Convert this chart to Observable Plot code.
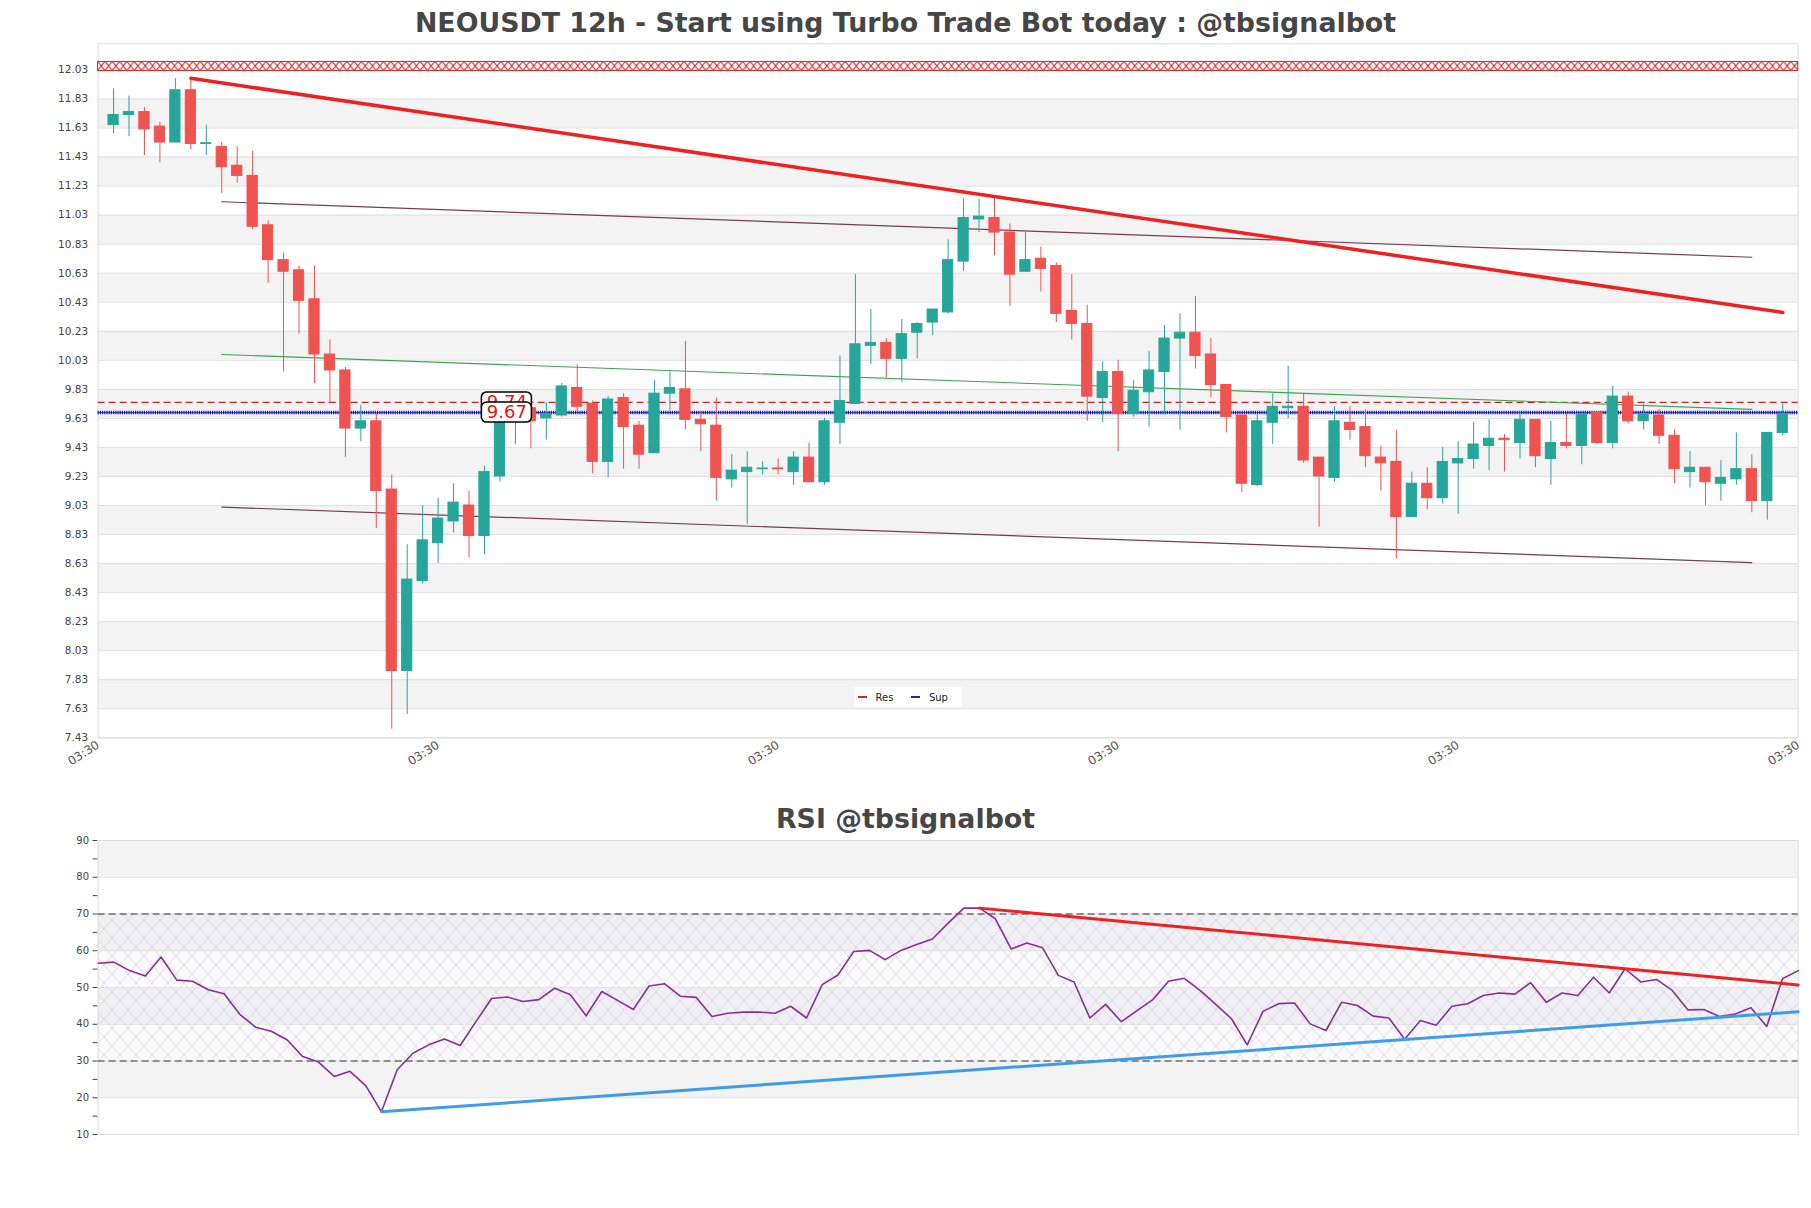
<!DOCTYPE html>
<html><head><meta charset="utf-8">
<script src="https://cdn.jsdelivr.net/npm/d3@7"></script>
<script src="https://cdn.jsdelivr.net/npm/@observablehq/plot@0.6"></script>
<style>
html,body{margin:0;padding:0;background:#fff;}
#page{position:relative;width:1811px;height:1208px;overflow:hidden;font-family:"DejaVu Sans",sans-serif;}
.title{position:absolute;left:0;width:1811px;text-align:center;font-weight:bold;font-size:26.8px;color:#464646;white-space:nowrap;}
#main{position:absolute;left:0;top:40px;}
#rsi{position:absolute;left:0;top:830px;}
#legend{position:absolute;left:854px;top:687px;width:108px;height:20px;background:#fff;border-radius:3px;font-size:10px;color:#222;display:flex;align-items:center;}
#legend .sw{display:inline-block;width:11px;height:2px;margin-left:4px;margin-right:9px;}
#legend .lab{margin-right:14px;}
</style></head><body>
<div id="page">
  <div class="title" style="top:3px;height:40px;line-height:40px;">NEOUSDT 12h - Start using Turbo Trade Bot today : @tbsignalbot</div>
  <div id="main"></div>
  <div id="legend"><span class="sw" style="background:#d62222"></span><span class="lab">Res</span><span class="sw" style="background:#2222bb"></span><span class="lab">Sup</span></div>
  <div class="title" style="top:799px;height:40px;line-height:40px;">RSI @tbsignalbot</div>
  <div id="rsi"></div>
</div>
<script>
// ---------- data ----------
const open  = [11.65,11.72,11.74,11.64,11.53,11.89,11.52,11.50,11.37,11.30,10.96,10.72,10.65,10.45,10.07,9.96,9.56,9.61,9.14,7.89,8.51,8.77,8.92,9.03,8.82,9.23,9.64,9.70,9.63,9.65,9.84,9.73,9.33,9.77,9.58,9.39,9.80,9.83,9.62,9.58,9.21,9.26,9.28,9.285,9.26,9.36,9.19,9.60,9.73,10.13,10.15,10.04,10.22,10.29,10.36,10.71,11.00,11.01,10.91,10.64,10.73,10.68,10.37,10.28,9.77,9.95,9.66,9.81,9.95,10.18,10.22,10.07,9.86,9.65,9.17,9.60,9.70,9.71,9.36,9.22,9.60,9.57,9.36,9.33,8.95,9.18,9.08,9.32,9.35,9.44,9.49,9.46,9.62,9.35,9.46,9.44,9.67,9.46,9.78,9.61,9.65,9.51,9.26,9.29,9.18,9.21,9.28,9.06,9.53];
const high  = [11.90,11.85,11.77,11.67,11.97,11.97,11.65,11.53,11.50,11.47,10.99,10.77,10.68,10.68,10.17,9.98,9.72,9.67,9.24,8.76,9.03,9.08,9.18,9.13,9.30,9.68,9.72,9.73,9.74,9.87,10.00,9.75,9.78,9.80,9.61,9.89,9.95,10.16,9.67,9.77,9.38,9.40,9.33,9.35,9.40,9.46,9.63,10.06,10.62,10.38,10.18,10.31,10.29,10.38,10.86,11.14,11.14,11.15,10.97,10.91,10.81,10.70,10.62,10.41,10.02,10.03,9.89,10.09,10.27,10.35,10.47,10.18,9.86,9.65,9.66,9.80,9.99,9.80,9.36,9.71,9.71,9.69,9.44,9.55,9.26,9.29,9.43,9.47,9.60,9.62,9.52,9.68,9.62,9.61,9.66,9.66,9.67,9.85,9.81,9.73,9.69,9.55,9.40,9.29,9.34,9.53,9.38,9.53,9.73];
const low   = [11.59,11.57,11.44,11.39,11.53,11.48,11.44,11.18,11.25,10.93,10.56,9.95,10.21,9.87,9.74,9.36,9.47,8.87,7.49,7.59,8.49,8.63,8.84,8.67,8.69,9.19,9.45,9.42,9.48,9.64,9.67,9.25,9.22,9.28,9.28,9.39,9.68,9.55,9.40,9.06,9.15,8.90,9.24,9.24,9.17,9.19,9.17,9.45,9.73,10.00,9.91,9.88,10.04,10.20,10.35,10.64,10.91,10.75,10.40,10.64,10.50,10.29,10.17,9.61,9.60,9.40,9.64,9.57,9.66,9.55,9.97,9.77,9.53,9.12,9.16,9.45,9.63,9.32,8.88,9.19,9.48,9.29,9.13,8.66,8.95,9.00,9.04,8.97,9.28,9.27,9.26,9.35,9.29,9.17,9.42,9.31,9.45,9.42,9.59,9.55,9.45,9.18,9.15,9.03,9.06,9.17,8.98,8.93,9.51];
const close = [11.72,11.74,11.62,11.53,11.89,11.52,11.525,11.36,11.30,10.95,10.72,10.64,10.44,10.07,9.96,9.56,9.61,9.13,7.89,8.52,8.79,8.94,9.05,8.82,9.26,9.64,9.66,9.61,9.66,9.85,9.71,9.33,9.76,9.57,9.38,9.80,9.84,9.62,9.59,9.22,9.27,9.29,9.285,9.28,9.36,9.19,9.61,9.75,10.14,10.15,10.04,10.21,10.28,10.38,10.72,11.01,11.02,10.91,10.62,10.72,10.66,10.35,10.28,9.78,9.95,9.66,9.82,9.96,10.18,10.22,10.06,9.86,9.64,9.18,9.61,9.71,9.71,9.34,9.23,9.61,9.55,9.37,9.32,8.95,9.18,9.08,9.33,9.35,9.45,9.49,9.48,9.62,9.37,9.46,9.44,9.66,9.46,9.78,9.61,9.66,9.51,9.28,9.29,9.19,9.22,9.28,9.06,9.53,9.66];
const rsi   = [56.6,56.9,54.6,53.1,58.3,52.0,51.7,49.4,48.3,42.7,39.2,38.1,35.8,31.2,29.7,25.8,27.2,23.3,16.2,27.6,32.1,34.4,36.0,34.2,40.7,47.0,47.4,46.2,46.7,49.8,48.0,42.3,48.9,46.5,44.0,50.4,51.0,47.6,47.3,42.1,43.0,43.3,43.3,43.0,44.9,41.7,50.8,53.4,59.8,60.1,57.6,60.1,61.7,63.2,67.5,71.6,71.6,68.7,60.5,62.1,60.8,53.3,51.5,41.7,45.4,40.7,43.7,46.7,51.7,52.5,49.2,45.4,41.5,34.4,43.5,45.6,45.8,40.1,38.3,46.0,45.1,42.2,41.7,35.9,41.0,39.7,44.9,45.6,47.8,48.5,48.2,51.3,46.0,48.5,47.8,52.8,48.5,55.1,51.5,52.2,49.2,43.9,44.0,42.1,42.8,44.5,39.4,52.4,54.6];

const yTicks = [7.43,7.63,7.83,8.03,8.23,8.43,8.63,8.83,9.03,9.23,9.43,9.63,9.83,10.03,10.23,10.43,10.63,10.83,11.03,11.23,11.43,11.63,11.83,12.03];
const yDomain = [7.43, 12.21];
const xDomain = [-1, 109];
const xTicks = [-1, 21, 43, 65, 87, 109];
const xTickLabels = ["03:30","03:30","03:30","03:30","03:30","03:30"];

const resTrend   = [[5, 11.972], [108, 10.36]];
const chanUpper  = [[7, 11.122], [106, 10.740]];
const chanMid    = [[7, 10.070], [106, 9.692]];
const chanLower  = [[7, 9.019],  [106, 8.637]];
const resZone    = [12.023, 12.085];
const levelValues = [9.74, 9.67];
const levelLabels = ["9.74", "9.67"];
const levelLabelIdx = 25.45;

const rsiTicks = [10,20,30,40,50,60,70,80,90];
const rsiMinor = [15,25,35,45,55,65,75,85];
const rsiLevels = [30, 70];
const rsiRes = [[56, 71.6], [108, 50.7]];
const rsiSup = [[18, 16.2], [108, 43.4]];

// ---------- main chart ----------
const UP = "#26a69a", DOWN = "#ef5350";
const candles = open.map((o, i) => ({i, o, h: high[i], l: low[i], c: close[i], col: close[i] >= o ? UP : DOWN}));
const bands = d3.range(1, yTicks.length - 1, 2).map(k => ({y1: yTicks[k], y2: yTicks[k + 1]}));
const levelData = levelValues.map((v, k) => ({v, label: levelLabels[k], idx: levelLabelIdx}));
const full = {x1: () => xDomain[0], x2: () => xDomain[1]};

const main = Plot.plot({
  width: 1811, height: 760,
  marginTop: 3.3, marginBottom: 62.7, marginLeft: 97.6, marginRight: 13.3,
  style: {fontFamily: "DejaVu Sans, sans-serif", fontSize: "10.5px", color: "#444", background: "transparent"},
  color: {type: "identity"},
  x: {domain: xDomain, ticks: xTicks, tickFormat: d => xTickLabels[xTicks.indexOf(d)], tickRotate: -33, tickSize: 0, tickPadding: 6, label: null},
  y: {domain: yDomain, ticks: yTicks, tickFormat: d3.format(".2f"), tickSize: 0, tickPadding: 10, label: null},
  marks: [
    Plot.rect(bands, {...full, y1: "y1", y2: "y2", fill: "#f3f3f3"}),
    Plot.ruleY(yTicks, {stroke: "#e0e0e0", strokeWidth: 1}),
    Plot.frame({stroke: "#dcdcdc"}),
    Plot.rect([resZone], {...full, y1: d => d[0], y2: d => d[1], fill: "#ff00fe", stroke: "#dd2222", strokeWidth: 1}),
    Plot.ruleY([levelValues[0]], {stroke: "#cc2222", strokeWidth: 1.2, strokeDasharray: "7,4"}),
    Plot.ruleY([levelValues[1]], {stroke: "#3b3bd0", strokeWidth: 1}),
    Plot.ruleY([levelValues[1]], {stroke: "#1a1ab0", strokeWidth: 3.5, strokeDasharray: "1.2,1"}),
    Plot.line(chanUpper, {x: d => d[0], y: d => d[1], stroke: "#7a3a52", strokeWidth: 1.2}),
    Plot.line(chanMid, {x: d => d[0], y: d => d[1], stroke: "#3da552", strokeWidth: 1.1}),
    Plot.line(chanLower, {x: d => d[0], y: d => d[1], stroke: "#7a3a52", strokeWidth: 1.2}),
    Plot.ruleX(candles, {x: "i", y1: "l", y2: "h", stroke: "col", strokeWidth: 1}),
    Plot.rect(candles, {x1: d => d.i - 0.33, x2: d => d.i + 0.33, y1: d => Math.min(d.o, d.c), y2: d => Math.max(d.o, d.c), fill: "col", stroke: "col", strokeWidth: 1}),
    Plot.line(resTrend, {x: d => d[0], y: d => d[1], stroke: "#f02020", strokeWidth: 3.5}),
    ...levelData.flatMap(d => [
      Plot.rect([d], {x1: "idx", x2: "idx", y1: "v", y2: "v", insetLeft: -25, insetRight: -25, insetTop: -10, insetBottom: -10, rx: 5, fill: "white", stroke: "black", strokeWidth: 1.5}),
      Plot.text([d], {x: "idx", y: "v", text: "label", fill: "#e01515", fontSize: 18})
    ])
  ]
});
document.getElementById("main").appendChild(main);
{
  const ys = main.scale("y");
  const yTop = ys.apply(resZone[1]), yBot = ys.apply(resZone[0]);
  const h = yBot - yTop, w = 7.33;
  const svg = d3.select(main);
  svg.insert("defs", ":first-child").html(
    `<pattern id="xhatch" patternUnits="userSpaceOnUse" x="97.6" y="${yTop}" width="${w}" height="${h}">` +
    `<rect width="${w}" height="${h}" fill="white"/>` +
    `<path d="M0,0L${w},${h}M${w},0L0,${h}" stroke="#dd2a2a" stroke-width="1.1" fill="none"/></pattern>`);
  svg.selectAll('[fill="#ff00fe"]').attr("fill", "url(#xhatch)");
  svg.selectAll("text").filter(function() { return xTickLabels.includes(this.textContent); })
    .style("font-size", "12px").style("fill", "#555");
}

// ---------- RSI chart ----------
const rsiData = rsi.map((v, k) => ({k, v}));
const rsiBands = [[80, 90], [60, 70], [40, 50], [20, 30]];
const rsiFull = {x1: () => 0, x2: () => rsi.length - 1};
const rsiAll = rsiTicks.concat(rsiMinor).sort((a, b) => a - b);
const rsiChart = Plot.plot({
  width: 1811, height: 378,
  marginTop: 10, marginBottom: 74, marginLeft: 97.6, marginRight: 13.3,
  style: {fontFamily: "DejaVu Sans, sans-serif", fontSize: "10px", color: "#444", background: "transparent"},
  x: {domain: [0, rsi.length - 1], axis: null},
  y: {domain: [10, 90], ticks: rsiAll, tickFormat: d => rsiTicks.includes(d) ? String(d) : "", tickSize: 5, tickPadding: 4, label: null},
  marks: [
    Plot.rect(rsiBands, {...rsiFull, y1: d => d[0], y2: d => d[1], fill: "#f3f3f4"}),
    Plot.rect([rsiLevels], {...rsiFull, y1: d => d[0], y2: d => d[1], fill: "#fe00ff"}),
    Plot.ruleY(rsiTicks, {stroke: "#e0e0e0"}),
    Plot.frame({stroke: "#dcdcdc"}),
    Plot.ruleY(rsiLevels, {stroke: "#333", strokeWidth: 1.2, strokeDasharray: "7,4"}),
    Plot.line(rsiData, {x: "k", y: "v", stroke: "#8b2c9e", strokeWidth: 1.6}),
    Plot.line(rsiRes, {x: d => d[0], y: d => d[1], stroke: "#f02020", strokeWidth: 3}),
    Plot.line(rsiSup, {x: d => d[0], y: d => d[1], stroke: "#3f9de8", strokeWidth: 3})
  ]
});
document.getElementById("rsi").appendChild(rsiChart);
{
  const svg = d3.select(rsiChart);
  svg.insert("defs", ":first-child").html(
    `<pattern id="rsihatch" patternUnits="userSpaceOnUse" width="16" height="18">` +
    `<rect width="16" height="18" fill="rgba(190,170,215,0.06)"/>` +
    `<path d="M0,0L16,18M16,0L0,18" stroke="#d0c8dc" stroke-width="0.6" fill="none"/></pattern>`);
  svg.selectAll('[fill="#fe00ff"]').attr("fill", "url(#rsihatch)");
}
</script>
</body></html>
